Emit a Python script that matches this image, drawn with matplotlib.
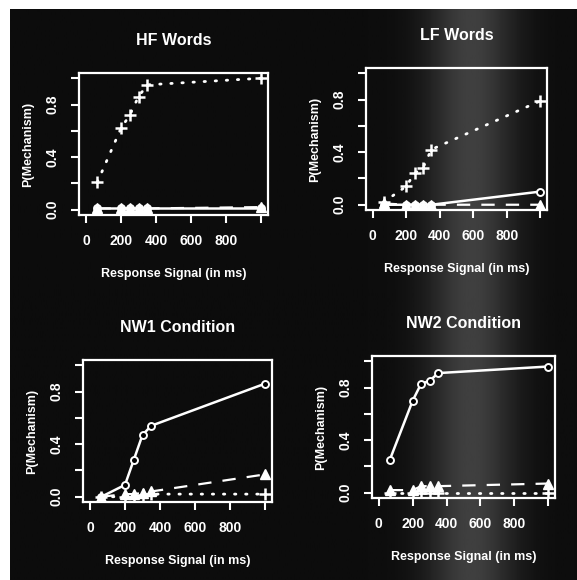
import numpy as np
import matplotlib
matplotlib.use("Agg")
import matplotlib.pyplot as plt

# response signal lags (ms), shared by all panels
signal = [65, 200, 250, 300, 350, 1000]

titles = ["HF Words", "LF Words", "NW1 Condition", "NW2 Condition"]

# P(mechanism) per panel: circles (solid), triangles (dashed), pluses (dotted)
hf_circle = [0.01, 0.01, 0.01, 0.01, 0.01, 0.01]
hf_triangle = [0.01, 0.01, 0.01, 0.01, 0.01, 0.02]
hf_plus = [0.21, 0.62, 0.72, 0.86, 0.95, 1.00]

lf_circle = [0.0, 0.0, 0.0, 0.0, 0.0, 0.10]
lf_triangle = [0.01, 0.0, 0.0, 0.0, 0.0, 0.0]
lf_plus = [0.02, 0.14, 0.24, 0.28, 0.42, 0.79]

nw1_circle = [0.0, 0.09, 0.28, 0.47, 0.54, 0.86]
nw1_triangle = [0.0, 0.02, 0.02, 0.03, 0.04, 0.17]
nw1_plus = [0.0, 0.0, 0.0, 0.01, 0.02, 0.02]

nw2_circle = [0.25, 0.70, 0.83, 0.85, 0.91, 0.96]
nw2_triangle = [0.02, 0.02, 0.05, 0.05, 0.05, 0.07]
nw2_plus = [0.0, 0.0, 0.0, 0.0, 0.0, 0.0]

panels = [
    (hf_circle, hf_triangle, hf_plus),
    (lf_circle, lf_triangle, lf_plus),
    (nw1_circle, nw1_triangle, nw1_plus),
    (nw2_circle, nw2_triangle, nw2_plus),
]

W, H = 577, 580
# axes boxes in pixels: left, right, top, bottom
boxes = [(79, 268, 73, 215), (366, 547, 68, 210),
         (83, 272, 360, 502), (372, 555, 356, 498)]

plt.rcParams['font.family'] = ['Liberation Sans', 'DejaVu Sans']
plt.rcParams['font.weight'] = 'bold'

fig = plt.figure(figsize=(W / 100, H / 100), dpi=100, facecolor='white')

# dark photocopy background with a lighter band
bg = fig.add_axes([10 / W, 0, 1 - 10 / W, 1 - 9 / H])
xs = np.linspace(0, W, 300)
shade = 0.05 + 0.2 * np.exp(-((xs - 470) / 45) ** 2)
bg.imshow(shade[None, :], aspect='auto', cmap='gray', vmin=0, vmax=1,
          extent=[0, 1, 0, 1])
bg.set_axis_off()

fg = 'white'
for i, (circ, tri, plus) in enumerate(panels):
    l, r, t, b = boxes[i]
    ax = fig.add_axes([l / W, 1 - b / H, (r - l) / W, (b - t) / H])
    ax.set_facecolor('none')
    ax.plot(signal, circ, linestyle='-', color=fg, lw=1.8, marker='o',
            ms=5, mfc='black', mec=fg, mew=1.4)
    ax.plot(signal, tri, linestyle='--', color=fg, lw=1.6, marker='^',
            ms=7.5, mfc=fg, mec=fg, dashes=(6, 5))
    ax.plot(signal, plus, linestyle=':', color=fg, lw=2, marker='+',
            ms=9, mew=1.8, dash_capstyle='round', dashes=(0.5, 3.5))
    ax.set_xlim(-40, 1040)
    ax.set_ylim(-0.04, 1.04)
    ax.set_xticks([0, 200, 400, 600, 800, 1000])
    ax.set_xticklabels(['0', '200', '400', '600', '800', ''])
    ax.set_yticks([0, 0.2, 0.4, 0.6, 0.8, 1.0])
    ax.set_yticklabels(['0.0', '', '0.4', '', '0.8', ''], rotation=90,
                       va='center')
    for s in ax.spines.values():
        s.set_color(fg)
        s.set_linewidth(1.6)
    ax.tick_params(colors=fg, length=6, width=1.5, labelsize=10, pad=8)
    ax.set_title(titles[i], color=fg, fontsize=11.5, fontweight='bold', pad=20)
    ax.set_xlabel('Response Signal (in ms)', color=fg, fontsize=9,
                  fontweight='bold', labelpad=14)
    ax.set_ylabel('P(Mechanism)', color=fg, fontsize=9,
                  fontweight='bold', labelpad=8)

fig.savefig('out.png', dpi=100, facecolor='white')
